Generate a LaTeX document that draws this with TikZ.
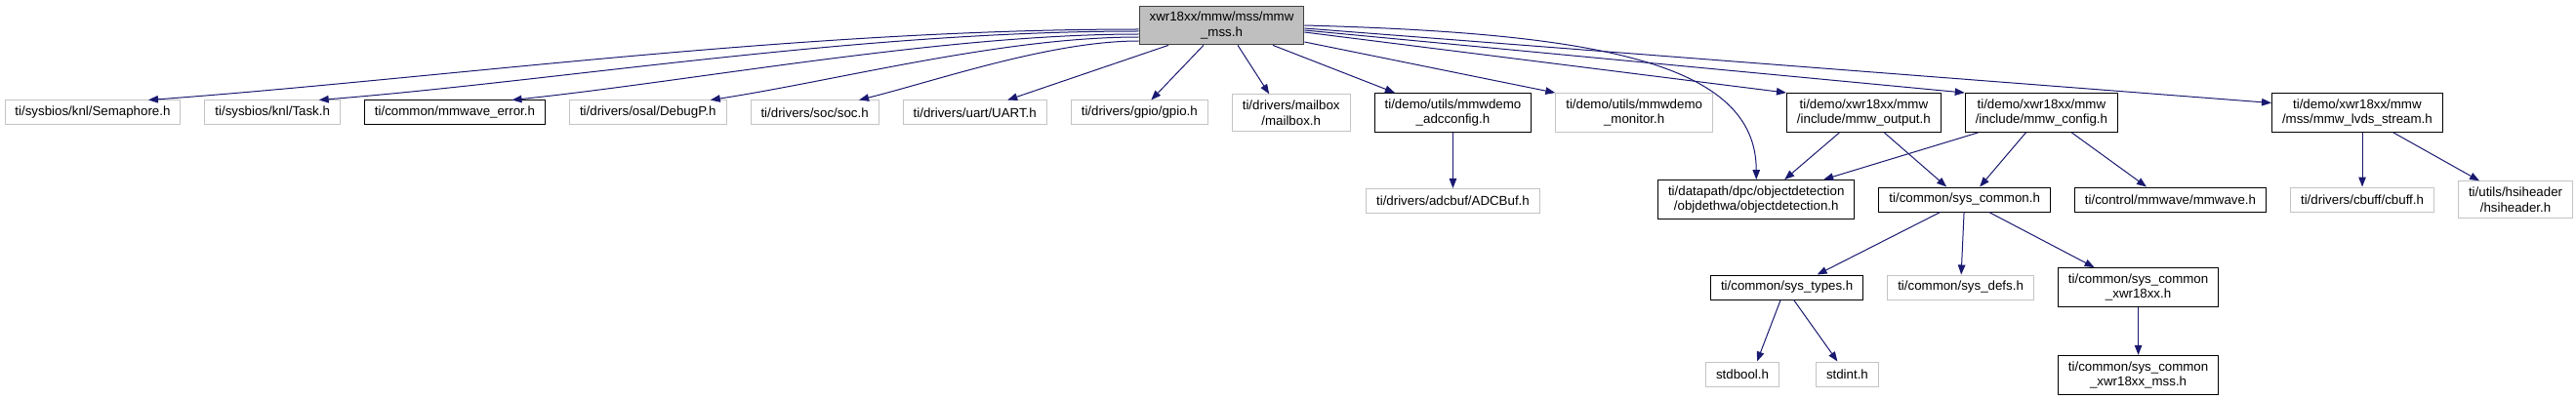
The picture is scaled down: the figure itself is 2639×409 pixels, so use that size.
\documentclass[tikz,border=0pt]{standalone}
\usepackage{fontspec}
\setmainfont{Liberation Sans}
\usetikzlibrary{arrows.meta,positioning}
\definecolor{edgeblue}{RGB}{25,25,112}
\definecolor{rootgray}{RGB}{191,191,191}
\definecolor{extgray}{RGB}{196,196,196}
\definecolor{rootline}{RGB}{64,64,64}
\tikzset{
  box/.style={
    draw=black,
    line width=1pt,
    fill=white,
    align=center,
    inner xsep=10.5pt,
    inner ysep=6pt,
    minimum height=25pt,
    font=\fontsize{13.3}{15.5}\selectfont
  },
  extbox/.style={box, draw=extgray},
  rootbox/.style={box, fill=rootgray, draw=rootline},
  arrow/.style={-{Triangle[length=10pt,width=7.5pt]}, line width=1pt, draw=edgeblue}
}
\begin{document}
\begin{tikzpicture}[x=1pt, y=-1pt, node distance=24pt]
    \useasboundingbox (0,0) rectangle (2639,409);
    \node[rootbox] (root) at (1251.5,26) {xwr18xx/mmw/mss/mmw\\\_mss.h};
    % first row
    \node[extbox, anchor=west] (sema) at (4.5,115.5) {ti/sysbios/knl/Semaphore.h};
    \node[extbox, right=of sema] (task) {ti/sysbios/knl/Task.h};
    \node[box, right=of task] (mmwerr) {ti/common/mmwave\_error.h};
    \node[extbox, right=of mmwerr] (debugp) {ti/drivers/osal/DebugP.h};
    \node[extbox, right=of debugp] (soc) {ti/drivers/soc/soc.h};
    \node[extbox, right=of soc] (uart) {ti/drivers/uart/UART.h};
    \node[extbox, right=of uart] (gpio) {ti/drivers/gpio/gpio.h};
    \node[extbox, right=of gpio] (mailbox) {ti/drivers/mailbox\\/mailbox.h};
    \node[box, right=of mailbox] (adccfg) {ti/demo/utils/mmwdemo\\\_adcconfig.h};
    \node[extbox, right=of adccfg] (monitor) {ti/demo/utils/mmwdemo\\\_monitor.h};
    \node[box, right=75pt of monitor] (mmwout) {ti/demo/xwr18xx/mmw\\/include/mmw\_output.h};
    \node[box, right=of mmwout] (mmwcfg) {ti/demo/xwr18xx/mmw\\/include/mmw\_config.h};
    \node[box, right=157pt of mmwcfg] (lvds) {ti/demo/xwr18xx/mmw\\/mss/mmw\_lvds\_stream.h};
    % second row
    \node[extbox, below=57pt of adccfg] (adcbuf) {ti/drivers/adcbuf/ADCBuf.h};
    \node[box, anchor=west] (objdet) at (1698,204.5) {ti/datapath/dpc/objectdetection\\/objdethwa/objectdetection.h};
    \node[box, right=of objdet] (syscommon) {ti/common/sys\_common.h};
    \node[box, right=of syscommon] (mmwave) {ti/control/mmwave/mmwave.h};
    \node[extbox, right=of mmwave] (cbuff) {ti/drivers/cbuff/cbuff.h};
    \node[extbox, right=of cbuff] (hsiheader) {ti/utils/hsiheader\\/hsiheader.h};
    % third row
    \node[box, anchor=west] (systypes) at (1752,294.5) {ti/common/sys\_types.h};
    \node[extbox, right=of systypes] (sysdefs) {ti/common/sys\_defs.h};
    \node[box, right=of sysdefs] (scx) {ti/common/sys\_common\\\_xwr18xx.h};
    % last row
    \node[extbox, anchor=west] (stdbool) at (1747,383.5) {stdbool.h};
    \node[extbox, right=37pt of stdbool] (stdint) {stdint.h};
    \node[box, below=49pt of scx] (scxmss) {ti/common/sys\_common\\\_xwr18xx\_mss.h};
    % includes of the root file
    \draw[arrow] ([yshift=-4pt]root.west) .. controls +(-350,0) and +(300,-22) .. ([xshift=57pt]sema.north);
    \draw[arrow] ([yshift=-6pt]root.west) .. controls +(-290,0) and +(250,-20) .. ([xshift=47.5pt]task.north);
    \draw[arrow] ([yshift=-9pt]root.west) .. controls +(-200,0) and +(190,-20) .. ([xshift=58.5pt]mmwerr.north);
    \draw[arrow] ([yshift=-12pt]root.west) .. controls +(-140,0) and +(130,-20) .. ([xshift=64pt]debugp.north);
    \draw[arrow] ([yshift=-16pt]root.west) .. controls +(-90,0) and +(80,-20) .. ([xshift=45.5pt]soc.north);
    \draw[arrow] ([xshift=-54.5pt]root.south) -- ([xshift=33.5pt]uart.north);
    \draw[arrow] ([xshift=-18.5pt]root.south) -- ([xshift=12pt]gpio.north);
    \draw[arrow] ([xshift=16.5pt]root.south) -- ([xshift=-22.5pt]mailbox.north);
    \draw[arrow] ([xshift=52.5pt]root.south) -- ([xshift=-59.5pt]adccfg.north);
    \draw[arrow] ([yshift=-17pt]root.east) -- (monitor.north west);
    \draw[arrow] (root.east) .. controls +(300,8) and +(0,-120) .. (objdet.north);
    \draw[arrow] ([yshift=-7pt]root.east) -- (mmwout.north west);
    \draw[arrow] ([yshift=-5pt]root.east) -- (mmwcfg.north west);
    \draw[arrow] ([yshift=-3pt]root.east) -- ([yshift=10pt]lvds.west);
    % nested includes
    \draw[arrow] (adccfg) -- (adcbuf);
    \draw[arrow] ([xshift=-25pt]mmwout.south) -- ([xshift=29pt]objdet.north);
    \draw[arrow] ([xshift=21pt]mmwout.south) -- ([xshift=-18.5pt]syscommon.north);
    \draw[arrow] ([xshift=-65pt]mmwcfg.south) -- ([xshift=69pt]objdet.north);
    \draw[arrow] ([xshift=-16pt]mmwcfg.south) -- ([xshift=15.5pt]syscommon.north);
    \draw[arrow] ([xshift=31pt]mmwcfg.south) -- ([xshift=-24.5pt]mmwave.north);
    \draw[arrow] (lvds.south -| cbuff.north) -- (cbuff.north);
    \draw[arrow] ([xshift=37pt]lvds.south) -- ([xshift=-37pt]hsiheader.north);
    \draw[arrow] ([xshift=-25pt]syscommon.south) -- ([xshift=31pt]systypes.north);
    \draw[arrow] (syscommon) -- (sysdefs);
    \draw[arrow] ([xshift=25pt]syscommon.south) -- ([xshift=-45pt]scx.north);
    \draw[arrow] ([xshift=-6.5pt]systypes.south) -- ([xshift=15pt]stdbool.north);
    \draw[arrow] ([xshift=7pt]systypes.south) -- ([xshift=-10pt]stdint.north);
    \draw[arrow] (scx) -- (scxmss);
\end{tikzpicture}
\end{document}
